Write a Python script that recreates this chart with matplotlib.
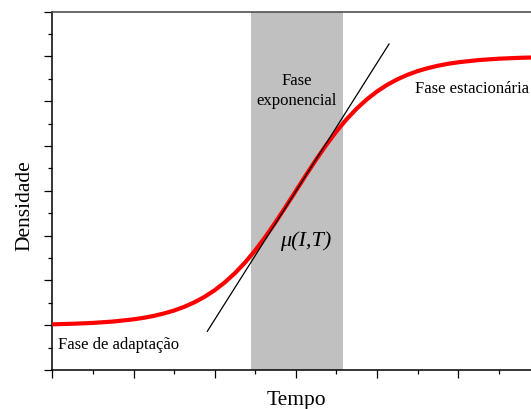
import matplotlib
matplotlib.use("Agg")
import matplotlib.pyplot as plt
from matplotlib.ticker import MultipleLocator

# --- data ---
tempo = [0.0, 0.25, 0.5, 0.75, 1.0, 1.125, 1.25, 1.375, 1.5, 1.625, 1.75, 1.875,
         2.0, 2.125, 2.25, 2.375, 2.5, 2.625, 2.75, 2.875, 3.0, 3.125, 3.25, 3.375,
         3.5, 3.625, 3.75, 3.875, 4.0, 4.125, 4.25, 4.375, 4.5, 4.625, 4.75, 4.875,
         5.0, 5.25, 5.5, 5.75, 6.0]
densidade = [1.020, 1.032, 1.051, 1.082, 1.131, 1.165, 1.208, 1.262, 1.328, 1.410,
             1.511, 1.633, 1.781, 1.957, 2.163, 2.402, 2.673, 2.974, 3.301, 3.646,
             4.000, 4.354, 4.699, 5.026, 5.327, 5.598, 5.837, 6.043, 6.219, 6.367,
             6.489, 6.590, 6.672, 6.738, 6.792, 6.835, 6.869, 6.918, 6.949, 6.968, 6.980]
fase_exp = [2.443, 3.576]          # shaded exponential phase (x range)
tangente_x = [1.909, 4.147]
tangente_y = [0.864, 7.277]

serif = ["Liberation Serif", "DejaVu Serif"]

fig = plt.figure(figsize=(5.31, 4.10), dpi=100)
W, H = 531, 410
left_px, right_px, top_px, bottom_px = 52.3, 539.5, 12.6, 371.0
ax = fig.add_axes([left_px / W, (H - bottom_px) / H,
                   (right_px - left_px) / W, (bottom_px - top_px) / H])

ax.axvspan(fase_exp[0], fase_exp[1], color="#C0C0C0", lw=0, zorder=1)
ax.plot(tempo, densidade, color="#FF0000", lw=3.0, solid_joinstyle="round",
        solid_capstyle="butt", zorder=3)
ax.plot(tangente_x, tangente_y, color="black", lw=0.9, zorder=4)

ax.set_xlim(0, 6)
ax.set_ylim(0, 8)
ax.xaxis.set_major_locator(MultipleLocator(1))
ax.xaxis.set_minor_locator(MultipleLocator(0.5))
ax.yaxis.set_major_locator(MultipleLocator(1))
ax.yaxis.set_minor_locator(MultipleLocator(0.5))
ax.tick_params(which="major", direction="out", length=5.5, width=0.9, color="black",
               labelbottom=False, labelleft=False)
ax.tick_params(which="minor", direction="out", length=3, width=0.9, color="black")
for s in ["left", "bottom"]:
    ax.spines[s].set_color("black")
    ax.spines[s].set_linewidth(1.1)
ax.spines["top"].set_color("#505050")
ax.spines["top"].set_linewidth(1.2)
ax.spines["right"].set_color("#505050")
ax.spines["right"].set_linewidth(1.2)

ax.text(0.074, 0.484, "Fase de adaptação", family=serif, fontsize=12,
        ha="left", va="baseline", zorder=5)
ax.text(4.467, 6.20, "Fase estacionária", family=serif, fontsize=12,
        ha="left", va="baseline", zorder=5)
ax.text(3.01, 6.384, "Fase", family=serif, fontsize=12,
        ha="center", va="baseline", zorder=5)
ax.text(3.01, 5.938, "exponencial", family=serif, fontsize=12,
        ha="center", va="baseline", zorder=5)
ax.text(2.804, 2.79, "μ(I,T)", family=serif, fontsize=16, style="italic",
        ha="left", va="baseline", zorder=5)

fig.text(296.7 / W, (H - 405.0) / H, "Tempo", family=serif, fontsize=15.5,
         ha="center", va="baseline")
fig.text(34 / W, (H - 205.9) / H, "Densidade", family=serif, fontsize=15.5,
         rotation=90, ha="right", va="center")

fig.savefig("out.png", dpi=100)
